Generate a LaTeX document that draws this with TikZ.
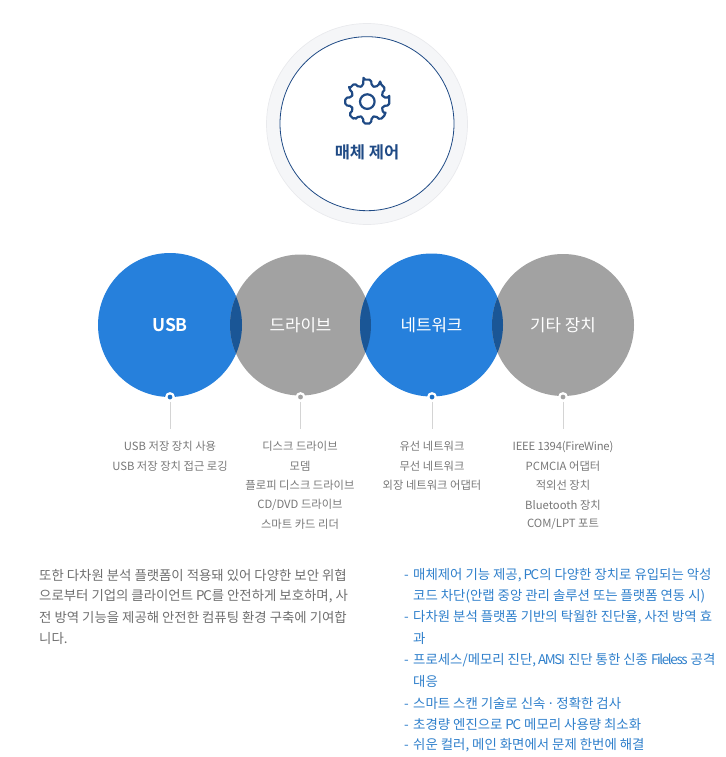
\documentclass[tikz,border=0pt]{standalone}
\usepackage{fontspec}
\setmainfont{Noto Sans CJK KR}
\newfontfamily\krbold{Noto Sans CJK KR Bold}
\newfontfamily\tightfont[LetterSpace=-10]{Noto Sans CJK KR}
\newfontfamily\semitight[LetterSpace=-2]{Noto Sans CJK KR}
\newcommand{\tl}[1]{{\tightfont #1}}
\newcommand{\hyph}{\makebox[9pt][l]{-}}
\definecolor{navy}{HTML}{1F4A85}
\definecolor{ringgray}{HTML}{F5F6F8}
\definecolor{ringline}{HTML}{E9EAED}
\definecolor{blueA}{HTML}{2680DC}
\definecolor{grayA}{HTML}{A2A2A2}
\definecolor{lens}{HTML}{1A5696}
\definecolor{dotblue}{HTML}{1C6FC4}
\definecolor{stem}{HTML}{D4D4D4}
\definecolor{listtext}{HTML}{777777}
\definecolor{paratext}{HTML}{6E6E6E}
\definecolor{bluetext}{HTML}{2E7FCB}
\tikzset{
  venn/.style={circle,inner sep=0pt,text=white,font=\fontsize{16.8}{18}\selectfont},
  dotnode/.style={circle,inner sep=0pt,minimum size=7.5pt,draw=white,line width=2.2pt},
  stemline/.style={draw=stem,line width=0.9pt},
  item/.style={inner sep=0pt,text=listtext,font=\fontsize{11.3}{13}\selectfont},
  para/.style={anchor=west,inner sep=0pt,text=paratext,font=\fontsize{13.4}{15}\selectfont},
  bul/.style={anchor=west,inner sep=0pt,text=bluetext,font=\fontsize{13.4}{15}\selectfont},
}
\begin{document}
\begin{tikzpicture}[x=1pt,y=-1pt]
\useasboundingbox (0,0) rectangle (725,757);
% top badge
\node[circle,inner sep=0pt,minimum size=201pt,fill=ringgray,draw=ringline,line width=0.7pt] (outer) at (367,124) {};
\node[circle,inner sep=0pt,minimum size=174pt,fill=white,draw=navy,line width=0.8pt] (inner) at (367,123.7) {};
\begin{scope}[shift={(367.3,101.6)}]
\draw[navy,line width=2.2pt,line join=round,rounded corners=1.8pt]
  (-10:22.3)
  \foreach \a in {0,45,...,315}{
    -- ({\a-10}:22.3) -- ({\a+10}:22.3) -- ({\a+15}:16.4) -- ({\a+30}:16.4) -- ({\a+35}:22.3)
  } -- cycle;
\draw[navy,line width=2.2pt] (0,0) circle[radius=7.3];
\end{scope}
\node[inner sep=0pt,text=navy,font=\krbold\fontsize{16.5}{18}\selectfont] (title) at (367,152) {매체 제어};
% venn circles
\node[venn,minimum size=144pt,fill=blueA,font=\krbold\fontsize{17.5}{18}\selectfont] (c1) at (170,325) {USB};
\node[venn,minimum size=141pt,fill=grayA] (c2) at (300.5,325) {드라이브};
\node[venn,minimum size=143pt,fill=blueA] (c3) at (431.5,325) {네트워크};
\node[venn,minimum size=142pt,fill=grayA] (c4) at (563,325) {기타 장치};
\begin{scope}\clip (170,325) circle[radius=72];\fill[lens] (300.5,325) circle[radius=70.5];\end{scope}
\begin{scope}\clip (431.5,325) circle[radius=71.5];\fill[lens] (300.5,325) circle[radius=70.5];\end{scope}
\begin{scope}\clip (431.5,325) circle[radius=71.5];\fill[lens] (563,325) circle[radius=71];\end{scope}
% markers and stems
\node[dotnode,fill=dotblue] (d1) at (170,397) {};
\node[dotnode,fill=grayA] (d2) at (300.5,397) {};
\node[dotnode,fill=dotblue] (d3) at (432,397) {};
\node[dotnode,fill=grayA] (d4) at (563,397) {};
\coordinate (e1) at (170,429);
\coordinate (e2) at (300.5,429);
\coordinate (e3) at (432,429);
\coordinate (e4) at (563,429);
\draw[stemline] (d1) -- (e1);
\draw[stemline] (d2) -- (e2);
\draw[stemline] (d3) -- (e3);
\draw[stemline] (d4) -- (e4);
% lists
\node[item] (a1) at (170,446.5) {USB 저장 장치 사용};
\node[item] (a2) at (170,466) {USB 저장 장치 접근 로깅};
\node[item] (b1) at (300,446.5) {디스크 드라이브};
\node[item] (b2) at (300,466) {모뎀};
\node[item] (b3) at (300,485.5) {플로피 디스크 드라이브};
\node[item] (b4) at (300,505) {CD/DVD 드라이브};
\node[item] (b5) at (300,524.5) {스마트 카드 리더};
\node[item] (f1) at (432,446.5) {유선 네트워크};
\node[item] (f2) at (432,466) {무선 네트워크};
\node[item] (f3) at (432,485.5) {외장 네트워크 어댑터};
\node[item] (g1) at (563,446.5) {\semitight IEEE 1394(FireWine)};
\node[item] (g2) at (563,466) {PCMCIA 어댑터};
\node[item] (g3) at (563,485.5) {적외선 장치};
\node[item] (g4) at (563,505) {Bluetooth 장치};
\node[item] (g5) at (563,524.5) {COM/LPT 포트};
% left paragraph
\node[para] (p1) at (39,575) {또한 다차원 분석 플랫폼이 적용돼 있어 다양한 보안 위협};
\node[para] (p2) at (39,596.5) {으로부터 기업의 클라이언트 \tl{PC}를 안전하게 보호하며, 사};
\node[para] (p3) at (39,617.5) {전 방역 기능을 제공해 안전한 컴퓨팅 환경 구축에 기여합};
\node[para] (p4) at (39,638.5) {니다.};
% right list
\node[bul] (q1) at (404,575) {\hyph 매체제어 기능 제공,\hspace{2pt}\tl{PC}의 다양한 장치로 유입되는 악성};
\node[bul] (q2) at (413,596.5) {코드 차단(안랩 중앙 관리 솔루션 또는 플랫폼 연동 시)};
\node[bul] (q3) at (404,617.5) {\hyph 다차원 분석 플랫폼 기반의 탁월한 진단율, 사전 방역 효};
\node[bul] (q4) at (413,638.5) {과};
\node[bul] (q5) at (404,660.5) {\hyph 프로세스/메모리 진단,\hspace{2pt}\tl{AMSI} 진단 통한 신종 \tl{Fileless} 공격};
\node[bul] (q6) at (413,681.5) {대응};
\node[bul] (q7) at (404,703.5) {\hyph 스마트 스캔 기술로 신속\hspace{4pt}\makebox[3pt]{·}\hspace{4pt}정확한 검사};
\node[bul] (q8) at (404,724.5) {\hyph 초경량 엔진으로 \tl{PC} 메모리 사용량 최소화};
\node[bul] (q9) at (404,745.5) {\hyph 쉬운 컬러, 메인 화면에서 문제 한번에 해결};
\end{tikzpicture}
\end{document}
